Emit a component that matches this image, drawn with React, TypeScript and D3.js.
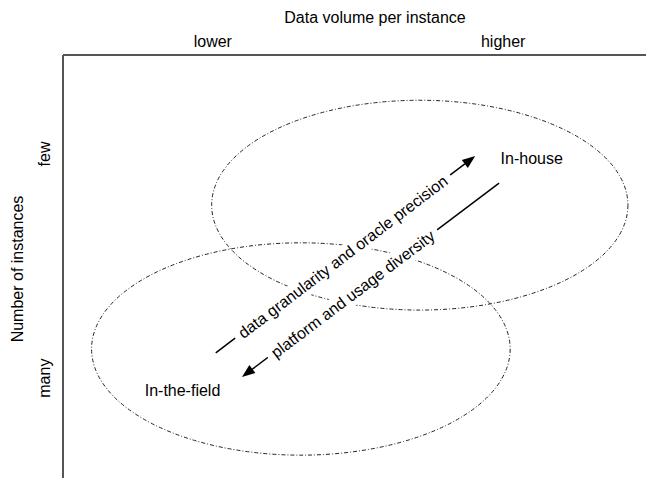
import React, { useEffect, useRef } from 'react';
import * as d3 from 'd3';

const W = 646;
const H = 478;

const xAxisTitle = 'Data volume per instance';
const yAxisTitle = 'Number of instances';
const xTickLabels = ['lower', 'higher'];
const xTickValues = [25.7, 75.5];
const yTickLabels = ['few', 'many'];
const yTickValues = [23.4, 76.4];

const groupNames = ['In-house', 'In-the-field'];
const groupCx = [61.2, 40.8];
const groupCy = [35.5, 69.5];
const groupRx = [35.7, 35.9];
const groupRy = [24.8, 25.1];
const groupLabelX = [80.4, 20.5];
const groupLabelY = [24.4, 79.4];

const arrowLabels = ['data granularity and oracle precision', 'platform and usage diversity'];
const arrowFromX = [26.2, 74.8];
const arrowFromY = [70.4, 30.3];
const arrowToX = [70.7, 30.7];
const arrowToY = [23.9, 76.1];
const arrowLabelX = [48.0, 49.7];
const arrowLabelY = [47.7, 56.5];

const FONT = '"Liberation Sans", Arial, Helvetica, sans-serif';

export default function App() {
  const ref = useRef<SVGSVGElement>(null);

  useEffect(() => {
    document.body.style.margin = '0';
    const svg = d3.select(ref.current);
    svg.selectAll('*').remove();

    const x = d3.scaleLinear().domain([0, 100]).range([63, 646]);
    const y = d3.scaleLinear().domain([0, 100]).range([55, 478]);

    // axes frame
    svg.append('line')
      .attr('x1', x(0)).attr('x2', x(100)).attr('y1', y(0)).attr('y2', y(0))
      .attr('stroke', '#555').attr('stroke-width', 2);
    svg.append('line')
      .attr('x1', x(0)).attr('x2', x(0)).attr('y1', y(0)).attr('y2', y(100))
      .attr('stroke', '#555').attr('stroke-width', 2);

    const txt = (sel: any) => sel.attr('font-family', FONT).attr('font-size', 16).attr('fill', '#000');

    svg.append('text').call(txt)
      .attr('x', 375).attr('y', 23).attr('text-anchor', 'middle').text(xAxisTitle);
    xTickLabels.forEach((t, i) => {
      svg.append('text').call(txt)
        .attr('x', x(xTickValues[i])).attr('y', 47).attr('text-anchor', 'middle').text(t);
    });
    svg.append('text').call(txt)
      .attr('transform', `translate(23,269) rotate(-90)`).attr('text-anchor', 'middle').text(yAxisTitle);
    yTickLabels.forEach((t, i) => {
      svg.append('text').call(txt)
        .attr('transform', `translate(50,${y(yTickValues[i])}) rotate(-90)`)
        .attr('text-anchor', 'middle').text(t);
    });

    // ellipses
    groupNames.forEach((_, i) => {
      svg.append('ellipse')
        .attr('cx', x(groupCx[i])).attr('cy', y(groupCy[i]))
        .attr('rx', x(groupRx[i]) - x(0)).attr('ry', y(groupRy[i]) - y(0))
        .attr('fill', 'none').attr('stroke', '#222').attr('stroke-width', 1)
        .attr('stroke-dasharray', '4,2,1,2');
    });

    // arrows
    arrowLabels.forEach((lab, i) => {
      const x1 = x(arrowFromX[i]), y1 = y(arrowFromY[i]);
      const x2 = x(arrowToX[i]), y2 = y(arrowToY[i]);
      const ang = Math.atan2(y2 - y1, x2 - x1);
      const L = 13, hw = 5;
      const bx = x2 - L * Math.cos(ang), by = y2 - L * Math.sin(ang);
      svg.append('line')
        .attr('x1', x1).attr('y1', y1).attr('x2', bx).attr('y2', by)
        .attr('stroke', '#000').attr('stroke-width', 1.5);
      const px = -Math.sin(ang) * hw, py = Math.cos(ang) * hw;
      svg.append('polygon')
        .attr('points', [[x2, y2], [bx + px, by + py], [bx - px, by - py]].map(p => p.join(',')).join(' '))
        .attr('fill', '#000');

      // label with white background
      let deg = (ang * 180) / Math.PI;
      if (deg > 90 || deg < -90) deg += 180;
      if (deg > 180) deg -= 360;
      const g = svg.append('g')
        .attr('transform', `translate(${x(arrowLabelX[i])},${y(arrowLabelY[i])}) rotate(${deg})`);
      const rect = g.append('rect').attr('fill', '#fff');
      const t = g.append('text').call(txt)
        .attr('text-anchor', 'middle').attr('dy', '0.35em').text(lab);
      const w = (t.node() as SVGTextElement).getComputedTextLength();
      const pad = 6;
      rect.attr('x', -w / 2 - pad).attr('y', -10).attr('width', w + 2 * pad).attr('height', 21);
    });

    // group labels
    groupNames.forEach((n, i) => {
      svg.append('text').call(txt)
        .attr('x', x(groupLabelX[i])).attr('y', y(groupLabelY[i]))
        .attr('dy', '0.35em').attr('text-anchor', 'middle').text(n);
    });
  }, []);

  return <svg ref={ref} width={W} height={H} style={{ display: 'block', background: '#fff' }} />;
}
